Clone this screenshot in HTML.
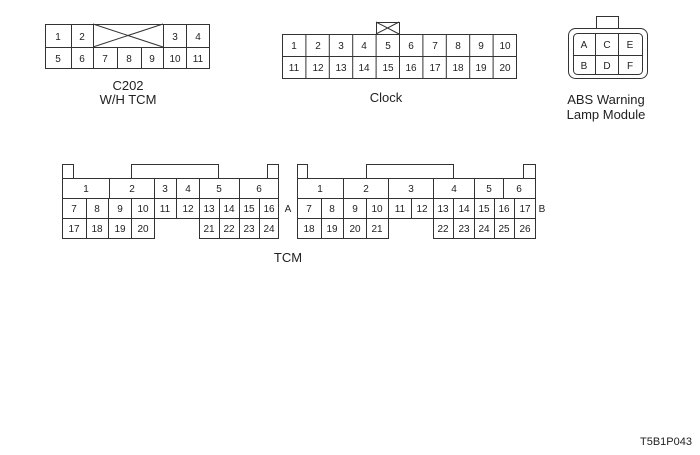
<!DOCTYPE html>
<html><head><meta charset="utf-8"><style>
html,body{margin:0;padding:0;background:#fff;width:700px;height:455px;overflow:hidden}
svg{display:block}
text{font-family:"Liberation Sans",sans-serif;fill:#222}
.n{font-size:10px;text-anchor:middle}
.l{font-size:13px;text-anchor:middle}
</style></head><body>
<svg width="700" height="455" viewBox="0 0 700 455" xmlns="http://www.w3.org/2000/svg">
<g fill="none" stroke="#333" stroke-width="1">
<!-- C202 -->
<rect x="45.5" y="24.5" width="164" height="44"/>
<line x1="45" y1="47.5" x2="93" y2="47.5"/><line x1="163" y1="47.5" x2="209" y2="47.5"/>
<line x1="93" y1="47.5" x2="163" y2="47.5"/>
<line x1="71.5" y1="24" x2="71.5" y2="68"/><line x1="93.5" y1="24" x2="93.5" y2="68"/>
<line x1="117.5" y1="47" x2="117.5" y2="68"/><line x1="141.5" y1="47" x2="141.5" y2="68"/>
<line x1="163.5" y1="24" x2="163.5" y2="68"/><line x1="186.5" y1="24" x2="186.5" y2="68"/>
<line x1="93" y1="24" x2="163" y2="47"/><line x1="93" y1="47" x2="163" y2="24"/>
<!-- Clock -->
<rect x="282.5" y="34.5" width="234" height="44"/>
<line x1="282" y1="56.5" x2="516" y2="56.5"/>
<line x1="305.9" y1="34" x2="305.9" y2="78"/><line x1="329.3" y1="34" x2="329.3" y2="78"/>
<line x1="352.7" y1="34" x2="352.7" y2="78"/><line x1="376.1" y1="34" x2="376.1" y2="78"/>
<line x1="399.5" y1="34" x2="399.5" y2="78"/><line x1="422.9" y1="34" x2="422.9" y2="78"/>
<line x1="446.3" y1="34" x2="446.3" y2="78"/><line x1="469.7" y1="34" x2="469.7" y2="78"/>
<line x1="493.1" y1="34" x2="493.1" y2="78"/>
<rect x="376.5" y="22.5" width="23" height="12"/>
<line x1="376" y1="22" x2="399" y2="34"/><line x1="376" y1="34" x2="399" y2="22"/>
<!-- ABS -->
<rect x="596.5" y="16.5" width="22" height="12"/>
<rect x="568.5" y="28.5" width="79" height="50" rx="7"/>
<rect x="573.5" y="33.5" width="69" height="41" rx="4"/>
<line x1="595.5" y1="33" x2="595.5" y2="75"/><line x1="618.5" y1="33" x2="618.5" y2="75"/>
<line x1="573" y1="55.5" x2="642" y2="55.5"/>
<!-- TCM A -->
<rect x="62.5" y="164.5" width="11" height="14"/>
<polyline points="131.5,178 131.5,164.5 218.5,164.5 218.5,178"/>
<rect x="267.5" y="164.5" width="11" height="14"/>
<rect x="62.5" y="178.5" width="216" height="40"/>
<line x1="62" y1="198.5" x2="278" y2="198.5"/>
<polyline points="62.5,218 62.5,238.5 154.5,238.5 154.5,218"/>
<polyline points="199.5,218 199.5,238.5 278.5,238.5 278.5,218"/>
<line x1="109.5" y1="178" x2="109.5" y2="198"/><line x1="154.5" y1="178" x2="154.5" y2="218"/>
<line x1="176.5" y1="178" x2="176.5" y2="218"/><line x1="199.5" y1="178" x2="199.5" y2="218"/>
<line x1="239.5" y1="178" x2="239.5" y2="238"/>
<line x1="86.5" y1="198" x2="86.5" y2="238"/><line x1="108.5" y1="198" x2="108.5" y2="238"/>
<line x1="131.5" y1="198" x2="131.5" y2="238"/><line x1="219.5" y1="198" x2="219.5" y2="238"/>
<line x1="259.5" y1="198" x2="259.5" y2="238"/>
<!-- TCM B -->
<rect x="297.5" y="164.5" width="10" height="14"/>
<polyline points="366.5,178 366.5,164.5 453.5,164.5 453.5,178"/>
<rect x="523.5" y="164.5" width="12" height="14"/>
<rect x="297.5" y="178.5" width="238" height="40"/>
<line x1="297" y1="198.5" x2="535" y2="198.5"/>
<polyline points="297.5,218 297.5,238.5 388.5,238.5 388.5,218"/>
<polyline points="433.5,218 433.5,238.5 535.5,238.5 535.5,218"/>
<line x1="343.5" y1="178" x2="343.5" y2="238"/><line x1="388.5" y1="178" x2="388.5" y2="218"/>
<line x1="433.5" y1="178" x2="433.5" y2="218"/><line x1="474.5" y1="178" x2="474.5" y2="238"/>
<line x1="503.5" y1="178" x2="503.5" y2="198"/>
<line x1="321.5" y1="198" x2="321.5" y2="238"/><line x1="366.5" y1="198" x2="366.5" y2="238"/>
<line x1="411.5" y1="198" x2="411.5" y2="218"/><line x1="453.5" y1="198" x2="453.5" y2="238"/>
<line x1="494.5" y1="198" x2="494.5" y2="238"/><line x1="514.5" y1="198" x2="514.5" y2="238"/>
</g>
<!-- C202 text -->
<text class="n" x="58" y="40">1</text><text class="n" x="82" y="40">2</text>
<text class="n" x="175" y="40">3</text><text class="n" x="198" y="40">4</text>
<text class="n" x="58" y="62">5</text><text class="n" x="82" y="62">6</text>
<text class="n" x="105" y="62">7</text><text class="n" x="129" y="62">8</text>
<text class="n" x="152" y="62">9</text><text class="n" x="175" y="62">10</text>
<text class="n" x="198" y="62">11</text>
<text class="l" x="128" y="90">C202</text><text class="l" x="128" y="104">W/H TCM</text>
<!-- Clock text -->
<text class="n" x="294" y="49">1</text><text class="n" x="318" y="49">2</text><text class="n" x="341" y="49">3</text><text class="n" x="364" y="49">4</text><text class="n" x="388" y="49">5</text><text class="n" x="411" y="49">6</text><text class="n" x="435" y="49">7</text><text class="n" x="458" y="49">8</text><text class="n" x="481" y="49">9</text><text class="n" x="505" y="49">10</text>
<text class="n" x="294" y="71">11</text><text class="n" x="318" y="71">12</text><text class="n" x="341" y="71">13</text><text class="n" x="364" y="71">14</text><text class="n" x="388" y="71">15</text><text class="n" x="411" y="71">16</text><text class="n" x="435" y="71">17</text><text class="n" x="458" y="71">18</text><text class="n" x="481" y="71">19</text><text class="n" x="505" y="71">20</text>
<text class="l" x="386" y="102">Clock</text>
<!-- ABS text -->
<text class="n" x="584" y="48">A</text><text class="n" x="607" y="48">C</text><text class="n" x="630" y="48">E</text>
<text class="n" x="584" y="69">B</text><text class="n" x="607" y="69">D</text><text class="n" x="630" y="69">F</text>
<text class="l" x="606" y="104">ABS Warning</text><text class="l" x="606" y="119">Lamp Module</text>
<!-- TCM A text -->
<text class="n" x="86" y="192">1</text><text class="n" x="132" y="192">2</text><text class="n" x="165" y="192">3</text><text class="n" x="188" y="192">4</text><text class="n" x="219" y="192">5</text><text class="n" x="259" y="192">6</text>
<text class="n" x="74" y="212">7</text><text class="n" x="97" y="212">8</text><text class="n" x="120" y="212">9</text><text class="n" x="143" y="212">10</text><text class="n" x="165" y="212">11</text><text class="n" x="188" y="212">12</text><text class="n" x="209" y="212">13</text><text class="n" x="229" y="212">14</text><text class="n" x="249" y="212">15</text><text class="n" x="269" y="212">16</text>
<text class="n" x="74" y="232">17</text><text class="n" x="97" y="232">18</text><text class="n" x="120" y="232">19</text><text class="n" x="143" y="232">20</text><text class="n" x="209" y="232">21</text><text class="n" x="229" y="232">22</text><text class="n" x="249" y="232">23</text><text class="n" x="269" y="232">24</text>
<text class="n" x="288" y="212">A</text>
<!-- TCM B text -->
<text class="n" x="320" y="192">1</text><text class="n" x="366" y="192">2</text><text class="n" x="411" y="192">3</text><text class="n" x="454" y="192">4</text><text class="n" x="489" y="192">5</text><text class="n" x="519" y="192">6</text>
<text class="n" x="309" y="212">7</text><text class="n" x="332" y="212">8</text><text class="n" x="355" y="212">9</text><text class="n" x="377" y="212">10</text><text class="n" x="400" y="212">11</text><text class="n" x="422" y="212">12</text><text class="n" x="443" y="212">13</text><text class="n" x="464" y="212">14</text><text class="n" x="484" y="212">15</text><text class="n" x="504" y="212">16</text><text class="n" x="525" y="212">17</text>
<text class="n" x="309" y="232">18</text><text class="n" x="332" y="232">19</text><text class="n" x="355" y="232">20</text><text class="n" x="377" y="232">21</text><text class="n" x="443" y="232">22</text><text class="n" x="464" y="232">23</text><text class="n" x="484" y="232">24</text><text class="n" x="504" y="232">25</text><text class="n" x="525" y="232">26</text>
<text class="n" x="542" y="212">B</text>
<text class="l" x="288" y="262">TCM</text>
<text x="640" y="445" style="font-size:11px">T5B1P043</text>
</svg>
</body></html>
